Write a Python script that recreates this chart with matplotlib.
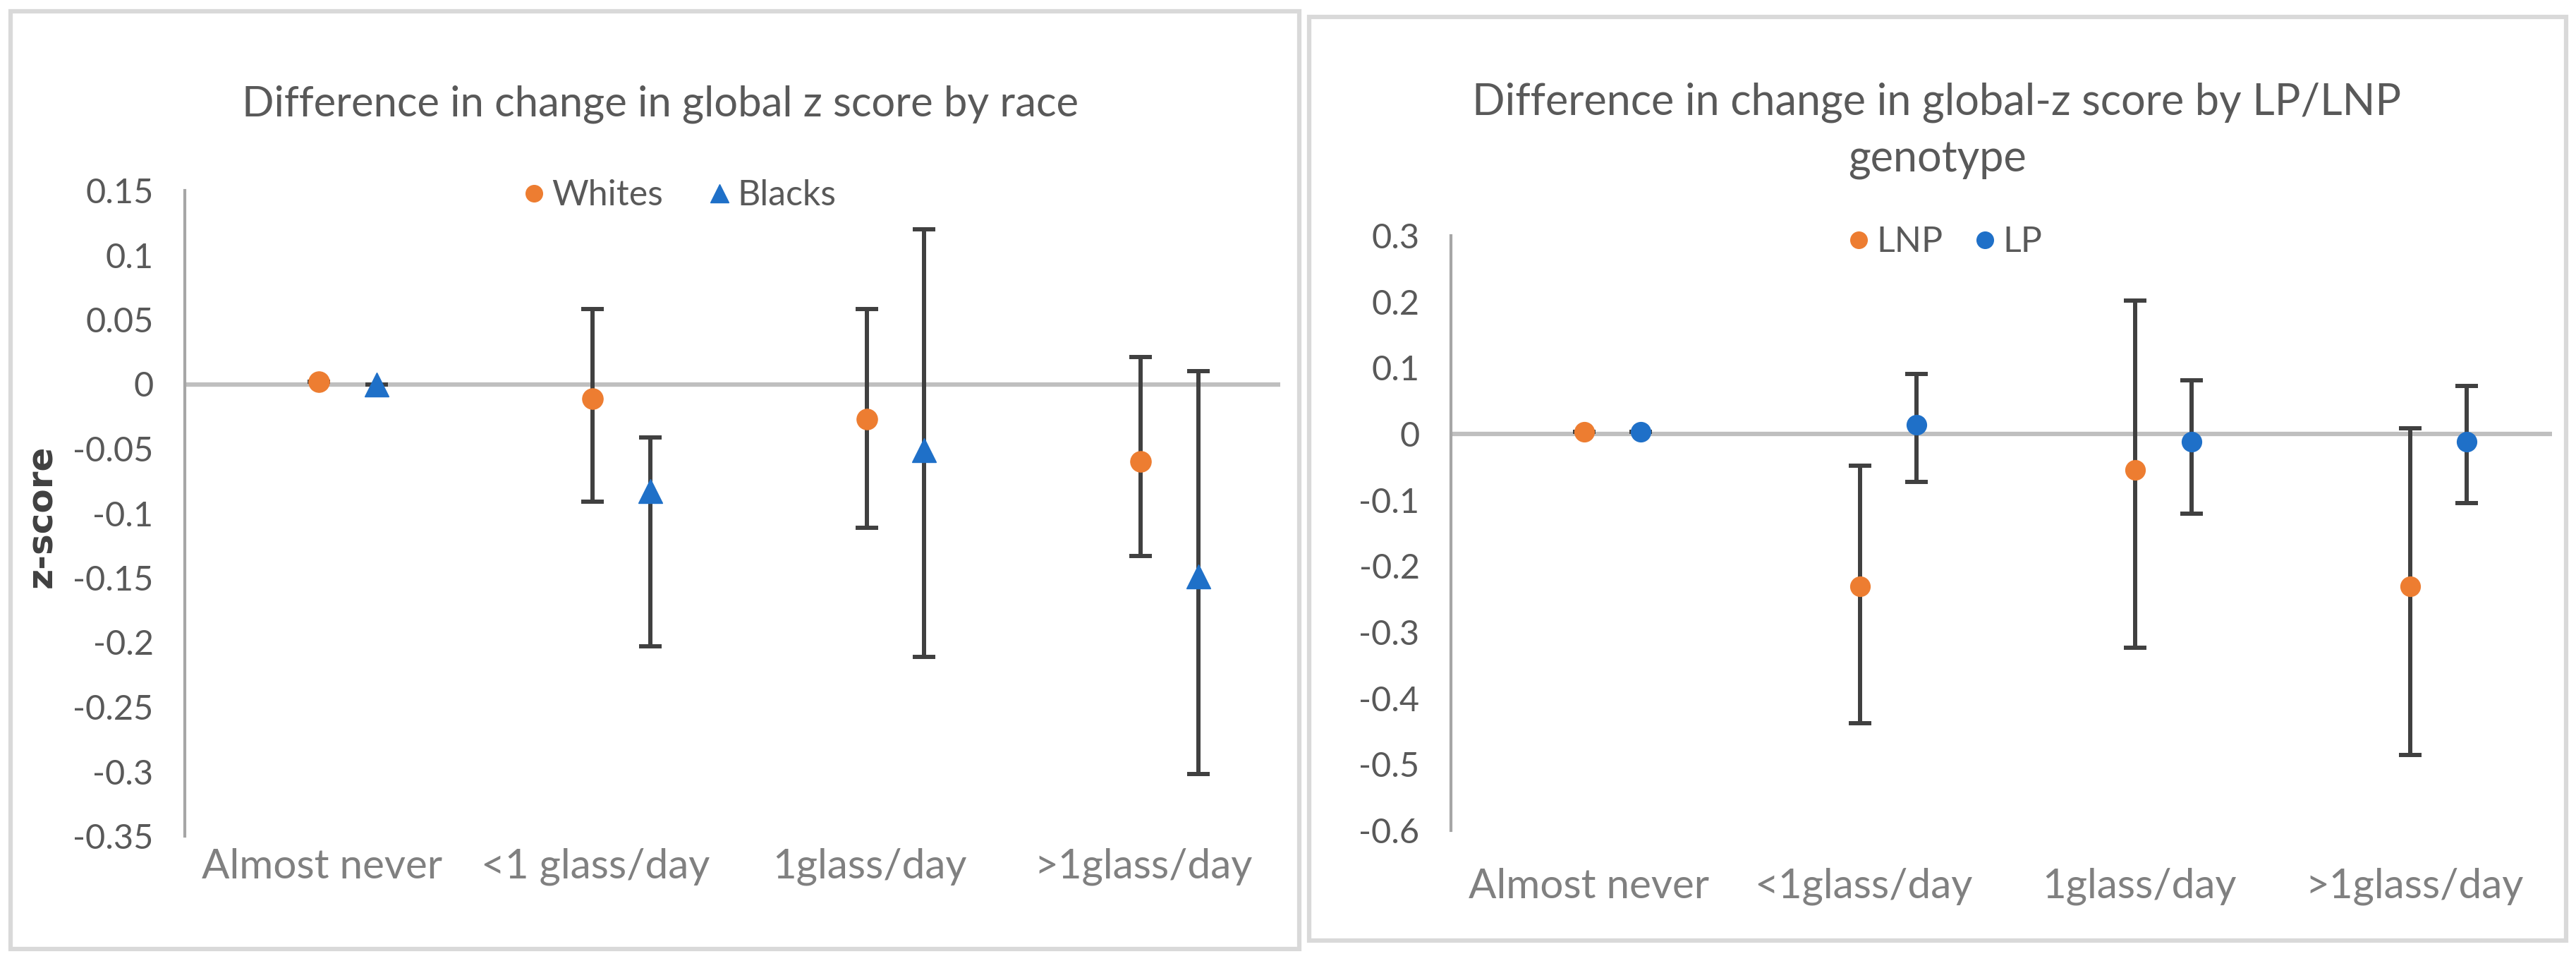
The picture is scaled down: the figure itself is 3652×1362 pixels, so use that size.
import matplotlib
matplotlib.use("Agg")
import matplotlib.pyplot as plt
from matplotlib import font_manager
from matplotlib.lines import Line2D
from matplotlib.patches import Rectangle
import numpy as np

# ---------------- data ----------------
categories_left = ["Almost never", "<1 glass/day", "1glass/day", ">1glass/day"]
categories_right = ["Almost never", "<1glass/day", "1glass/day", ">1glass/day"]

whites = [0.002, -0.011, -0.027, -0.060]
whites_low = [0.002, -0.091, -0.111, -0.133]
whites_high = [0.002, 0.058, 0.058, 0.021]

blacks = [0.0, -0.083, -0.051, -0.149]
blacks_low = [0.0, -0.203, -0.211, -0.302]
blacks_high = [0.0, -0.041, 0.120, 0.010]

lnp = [0.003, -0.231, -0.054, -0.231]
lnp_low = [0.003, -0.438, -0.324, -0.486]
lnp_high = [0.003, -0.048, 0.202, 0.009]

lp = [0.003, 0.014, -0.012, -0.012]
lp_low = [0.003, -0.073, -0.121, -0.105]
lp_high = [0.003, 0.091, 0.081, 0.073]

left_yticks = [0.15, 0.1, 0.05, 0, -0.05, -0.1, -0.15, -0.2, -0.25, -0.3, -0.35]
right_yticks = [0.3, 0.2, 0.1, 0, -0.1, -0.2, -0.3, -0.4, -0.5, -0.6]

title_left = "Difference in change in global z score by race"
title_right = "Difference in change in global-z score by LP/LNP\ngenotype"

# ---------------- style ----------------
names = {f.name for f in font_manager.fontManager.ttflist}
FONT = "Liberation Sans Narrow" if "Liberation Sans Narrow" in names else "Lato"
plt.rcParams["font.family"] = [FONT, "DejaVu Sans"]

ORANGE = "#ED7D31"
BLUE = "#1F70C8"
ERR = "#404040"
ZERO = "#BFBFBF"
SPINE = "#A6A6A6"
TXT = "#595959"
CAT = "#808080"

W, H = 3652, 1362
fig = plt.figure(figsize=(W / 100, H / 100), dpi=100)
fig.patch.set_facecolor("white")

# panel frames
for (x0, y0, x1, y1) in [(15, 16, 1842, 1345), (1856, 24, 3638, 1333)]:
    fig.patches.append(Rectangle((x0 / W, 1 - y1 / H), (x1 - x0) / W, (y1 - y0) / H,
                                 transform=fig.transFigure, fill=False,
                                 edgecolor="#D9D9D9", linewidth=4.5, zorder=0))

axL = fig.add_axes([262 / W, 1 - 1185 / H, (1815 - 262) / W, (1185 - 270) / H])
axR = fig.add_axes([2057 / W, 1 - 1177 / H, (3618 - 2057) / W, (1177 - 334) / H])


def draw(ax, cats, s1, lo1, hi1, s2, lo2, hi2, off1, off2, m1, m2, c1, c2, ms1, ms2,
         yticks, ylim, xpad):
    x = np.arange(len(cats))
    ax.axhline(0, color=ZERO, lw=4.5, zorder=1)
    for s, lo, hi, off, m, c, ms in [(s1, lo1, hi1, off1, m1, c1, ms1),
                                      (s2, lo2, hi2, off2, m2, c2, ms2)]:
        s = np.array(s); lo = np.array(lo); hi = np.array(hi)
        yerr = np.vstack([s - lo, hi - s])
        ax.errorbar(x + off, s, yerr=yerr, fmt=m, color=c, ms=ms, mec=c,
                    ecolor=ERR, elinewidth=4.3, capsize=11.5, capthick=4.3, zorder=3)
    ax.set_xlim(-0.5, len(cats) - 0.5)
    ax.set_ylim(*ylim)
    ax.set_yticks(yticks)
    ax.set_yticklabels([("%g" % t) for t in yticks])
    ax.set_xticks(x)
    ax.set_xticklabels(cats)
    for sp in ["top", "right", "bottom"]:
        ax.spines[sp].set_visible(False)
    ax.spines["left"].set_color(SPINE)
    ax.spines["left"].set_linewidth(3)
    ax.tick_params(axis="y", length=0, pad=32, labelsize=35, labelcolor=TXT)
    ax.tick_params(axis="x", length=0, pad=xpad, labelsize=42, labelcolor=CAT)
    ax.set_facecolor("none")


draw(axL, categories_left, whites, whites_low, whites_high, blacks, blacks_low, blacks_high,
     -0.01, 0.2, "o", "^", ORANGE, BLUE, 21, 25, left_yticks, (-0.35, 0.15), 12)
draw(axR, categories_right, lnp, lnp_low, lnp_high, lp, lp_low, lp_high,
     -0.015, 0.19, "o", "o", ORANGE, BLUE, 20, 20, right_yticks, (-0.6, 0.3), 38)

# titles
fig.text(936 / W, 1 - 148 / H, title_left, ha="center", va="center",
         fontsize=43, color=TXT)
fig.text(2746 / W, 1 - 186 / H, title_right, ha="center", va="center",
         fontsize=44, color=TXT, linespacing=1.5)

# y label
fig.text(59 / W, 1 - 732 / H, "z-score", rotation=90, ha="center", va="center",
         fontsize=36, fontweight="bold", color="#404040", family="DejaVu Sans")

# legends
hL = [Line2D([], [], ls="none", marker="o", color=ORANGE, ms=17),
      Line2D([], [], ls="none", marker="^", color=BLUE, ms=19)]
fig.legend(hL, ["Whites", "Blacks"], loc="center", bbox_to_anchor=(961 / W, 1 - 277 / H),
           ncol=2, frameon=False, fontsize=36, labelcolor=TXT, handletextpad=0.1,
           columnspacing=1.2, handlelength=0.8, borderpad=0)
hR = [Line2D([], [], ls="none", marker="o", color=ORANGE, ms=17),
      Line2D([], [], ls="none", marker="o", color=BLUE, ms=17)]
fig.legend(hR, ["LNP", "LP"], loc="center", bbox_to_anchor=(2755 / W, 1 - 343 / H),
           ncol=2, frameon=False, fontsize=36, labelcolor=TXT, handletextpad=0.1,
           columnspacing=0.8, handlelength=0.8, borderpad=0)

fig.savefig("out.png", dpi=100, facecolor="white")
